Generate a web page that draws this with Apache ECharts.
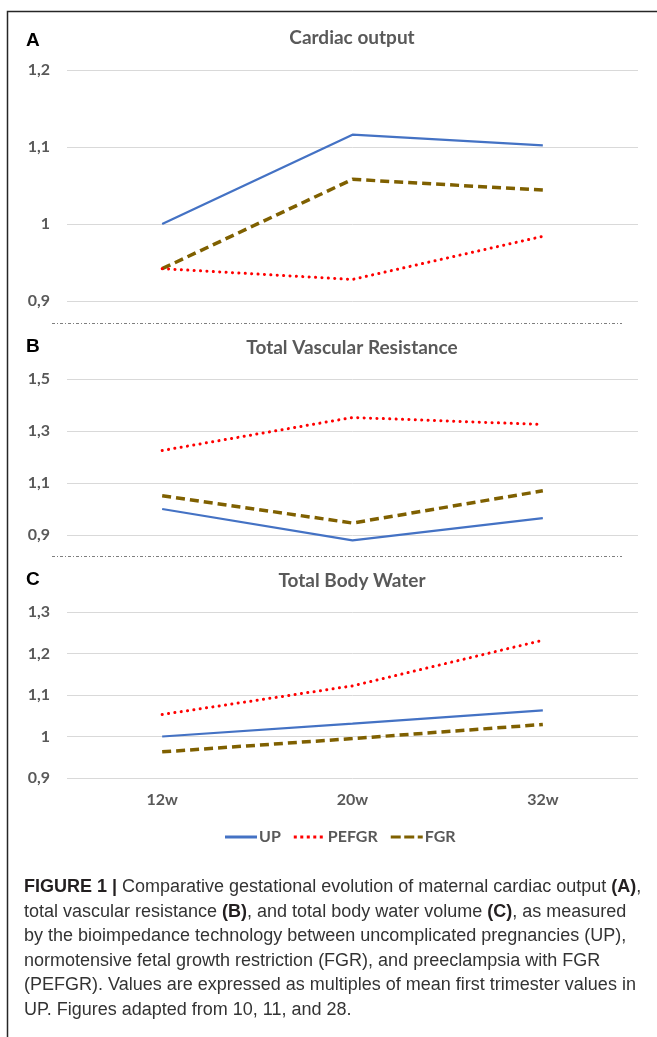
<!DOCTYPE html>
<html>
<head>
<meta charset="utf-8">
<script src="https://cdn.jsdelivr.net/npm/echarts@6/dist/echarts.min.js"></script>
<style>html,body{margin:0;padding:0;background:#fff}#c{width:657px;height:1037px}</style>
</head>
<body>
<div id="c"></div>
<script>
// ---- data ----
const categories = ['12w', '20w', '32w'];
const seriesNames = ['UP', 'PEFGR', 'FGR'];
const panelTitles = ['Cardiac output', 'Total Vascular Resistance', 'Total Body Water'];
const panelLetters = ['A', 'B', 'C'];
// Panel A: Cardiac output
const coUP    = [1.000, 1.116, 1.102];
const coPEFGR = [0.942, 0.928, 0.984];
const coFGR   = [0.942, 1.058, 1.044];
// Panel B: Total vascular resistance
const tvrUP    = [1.000, 0.879, 0.965];
const tvrPEFGR = [1.225, 1.352, 1.325];
const tvrFGR   = [1.051, 0.946, 1.070];
// Panel C: Total body water
const tbwUP    = [1.000, 1.031, 1.063];
const tbwPEFGR = [1.053, 1.122, 1.232];
const tbwFGR   = [0.963, 0.995, 1.029];
// y axis ticks
const yTicksA = [0.9, 1.0, 1.1, 1.2];
const yTicksB = [0.9, 1.1, 1.3, 1.5];
const yTicksC = [0.9, 1.0, 1.1, 1.2, 1.3];

const panelData = [
  [coUP, coPEFGR, coFGR],
  [tvrUP, tvrPEFGR, tvrFGR],
  [tbwUP, tbwPEFGR, tbwFGR]
];
const yTicks = [yTicksA, yTicksB, yTicksC];

const gray = '#595959';
const font = 'Lato, "Open Sans", sans-serif';
const lineStyles = [
  {color: '#4472C4', width: 2.25, type: 'solid'},
  {color: '#FF0000', width: 3, type: [0.1, 6.3], cap: 'round'},
  {color: '#7F6000', width: 3.5, type: [9, 5], cap: 'butt'}
];
const legendIcons = [
  'path://M0,0L32,0L32,3L0,3Z',
  'path://M0,0h3v3h-3zM6.5,0h3v3h-3zM13,0h3v3h-3zM19.5,0h3v3h-3zM26,0h3v3h-3zM32,0h0.01v3h-0.01z',
  'path://M0,0h10v3h-10zM13.5,0h10v3h-10zM27,0h5v3h-5z'
];

const grids = [
  {left: 67, right: 19, top: 70, height: 231},
  {left: 67, right: 19, top: 379, height: 156},
  {left: 67, right: 19, top: 612, height: 166}
];

function fmt(v) {
  let s = (Math.round(v * 10) / 10).toString();
  return s.replace('.', ',');
}

const xAxes = grids.map((g, i) => ({
  type: 'category', gridIndex: i, data: categories, boundaryGap: true,
  axisLine: {show: false}, axisTick: {show: false},
  axisLabel: {show: i === 2, color: gray, fontFamily: font, fontWeight: 'bold', fontSize: 16, margin: 14}
}));
const yAxes = yTicks.map((t, i) => {
  const interval = Math.round((t[1] - t[0]) * 10) / 10;
  return {
    type: 'value', gridIndex: i, min: t[0], max: t[t.length - 1], interval: interval,
    axisLine: {show: false}, axisTick: {show: false},
    splitLine: {lineStyle: {color: '#d9d9d9', width: 1}},
    axisLabel: {color: gray, fontFamily: font, fontWeight: 'bold', fontSize: 16, margin: 17, formatter: fmt}
  };
});

const series = [];
panelData.forEach((arr, pi) => {
  arr.forEach((vals, si) => {
    series.push({
      type: 'line', name: seriesNames[si], xAxisIndex: pi, yAxisIndex: pi,
      data: vals, symbol: 'none', showSymbol: false, clip: false, smooth: false,
      lineStyle: lineStyles[si], itemStyle: {color: lineStyles[si].color},
      z: 3 - si
    });
  });
});

const titles = panelTitles.map((t, i) => ({
  text: t, left: 347, top: [23, 333, 566][i], textAlign: 'center',
  textStyle: {fontFamily: font, fontWeight: 'bold', fontSize: 19, color: gray}
}));

const captionLines = [
  '{b|FIGURE 1 |} Comparative gestational evolution of maternal cardiac output {b|(A)},',
  'total vascular resistance {b|(B)}, and total body water volume {b|(C)}, as measured',
  'by the bioimpedance technology between uncomplicated pregnancies (UP),',
  'normotensive fetal growth restriction (FGR), and preeclampsia with FGR',
  '(PEFGR). Values are expressed as multiples of mean first trimester values in',
  'UP. Figures adapted from 10, 11, and 28.'
];
const capFont = '"Liberation Sans", Arial, sans-serif';
const graphic = [
  {type: 'polyline', shape: {points: [[7.5, 1037], [7.5, 11.5], [657, 11.5]]},
   style: {stroke: '#262626', lineWidth: 1.5, fill: null}, silent: true},
  {type: 'line', shape: {x1: 52, y1: 323.5, x2: 622, y2: 323.5},
   style: {stroke: '#7f7f7f', lineWidth: 1, lineDash: [3, 2, 1, 2]}},
  {type: 'line', shape: {x1: 52, y1: 556.5, x2: 622, y2: 556.5},
   style: {stroke: '#7f7f7f', lineWidth: 1, lineDash: [3, 2, 1, 2]}}
];
panelLetters.forEach((L, i) => {
  graphic.push({type: 'text', left: 26, top: [31, 337, 570][i],
    style: {text: L, font: 'bold 19px "Liberation Sans", Arial, sans-serif', fill: '#000'}});
});
captionLines.forEach((line, i) => {
  graphic.push({type: 'text', left: 24, top: 878 + i * 24.6,
    style: {text: line, fill: '#333333', fontFamily: capFont, fontSize: 18, fontWeight: 'normal',
      rich: {b: {fontFamily: capFont, fontSize: 18, fontWeight: 'bold', fill: '#231f20'}}}});
});

const chart = echarts.init(document.getElementById('c'));
chart.setOption({
  animation: false,
  backgroundColor: '#fff',
  title: titles,
  grid: grids,
  xAxis: xAxes,
  yAxis: yAxes,
  series: series,
  legend: {
    data: seriesNames.map((n, i) => ({name: n, icon: legendIcons[i]})),
    left: 220, top: 824, itemWidth: 32, itemHeight: 3, itemGap: 13,
    textStyle: {color: gray, fontFamily: font, fontWeight: 'bold', fontSize: 16, padding: [0, 0, 0, -3]}
  },
  graphic: graphic
});
</script>
</body>
</html>
